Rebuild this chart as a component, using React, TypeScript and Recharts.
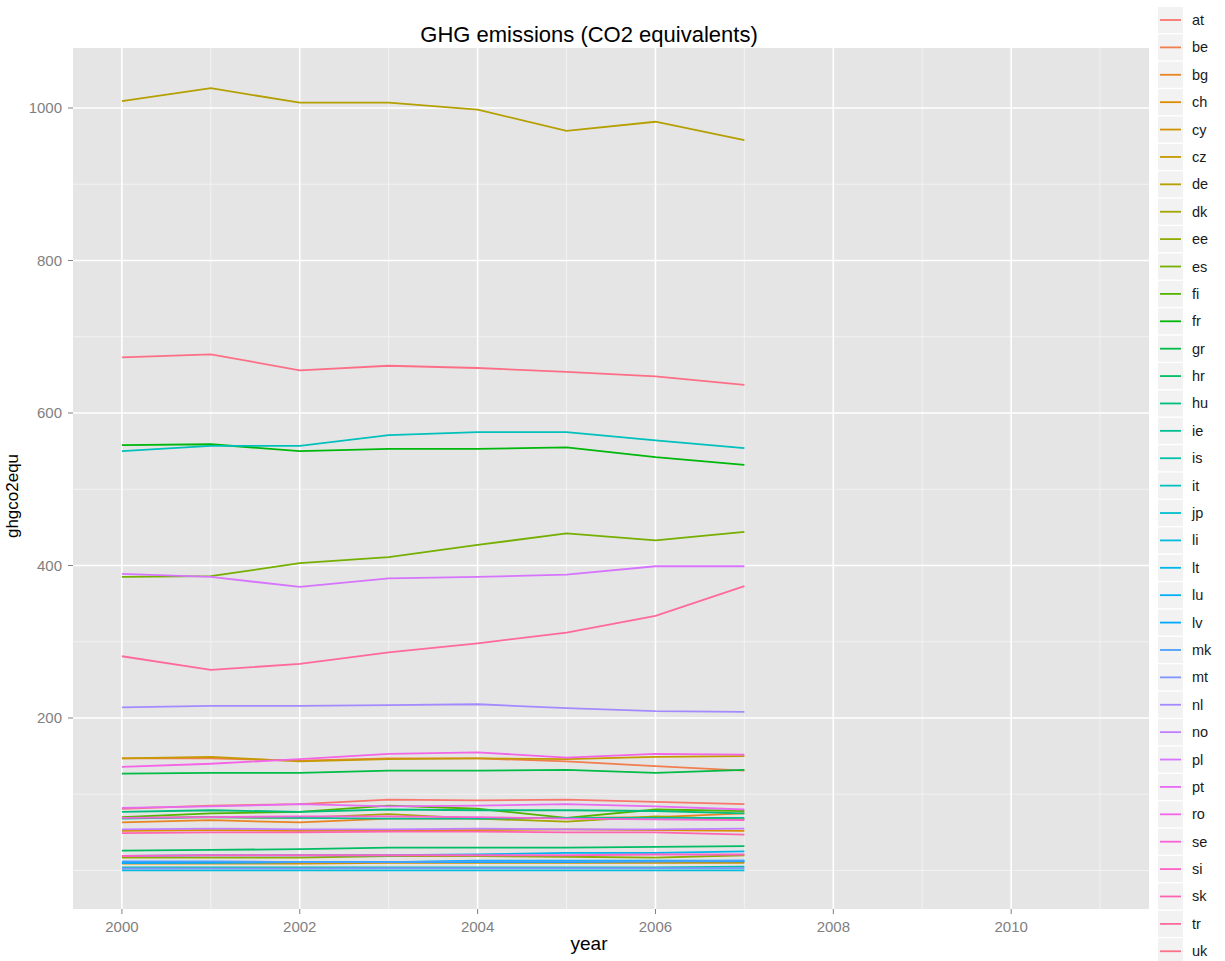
import React from "react";
import {
  CartesianGrid,
  Legend,
  Line,
  LineChart,
  XAxis,
  YAxis,
} from "recharts";

const FONT = '"Liberation Sans", Arial, sans-serif';

const years = [2000, 2001, 2002, 2003, 2004, 2005, 2006, 2007];

const countries = [
  "at", "be", "bg", "ch", "cy", "cz", "de", "dk", "ee", "es", "fi", "fr",
  "gr", "hr", "hu", "ie", "is", "it", "jp", "li", "lt", "lu", "lv", "mk",
  "mt", "nl", "no", "pl", "pt", "ro", "se", "si", "sk", "tr", "uk",
];

// ghg emissions per country, Mt CO2 equivalents, 2000-2007
const ghgAT = [81, 85, 87, 93, 92, 93, 90, 87];
const ghgBE = [147, 147, 144, 147, 147, 143, 137, 131];
const ghgBG = [63, 66, 63, 68, 68, 69, 70, 75];
const ghgCH = [52, 53, 52, 53, 53, 54, 53, 52];
const ghgCY = [9, 9, 9, 10, 10, 10, 10, 10];
const ghgCZ = [147, 149, 143, 146, 147, 146, 149, 150];
const ghgDE = [1009, 1026, 1007, 1007, 998, 970, 982, 958];
const ghgDK = [69, 70, 69, 74, 68, 64, 71, 67];
const ghgEE = [17, 17, 17, 19, 19, 18, 17, 20];
const ghgES = [385, 386, 403, 411, 427, 442, 433, 444];
const ghgFI = [70, 75, 77, 85, 81, 69, 80, 78];
const ghgFR = [558, 559, 550, 553, 553, 555, 542, 532];
const ghgGR = [127, 128, 128, 131, 131, 132, 128, 132];
const ghgHR = [26, 27, 28, 30, 30, 30, 31, 32];
const ghgHU = [77, 79, 77, 80, 79, 79, 78, 75];
const ghgIE = [68, 70, 69, 68, 68, 69, 69, 69];
const ghgIS = [4, 4, 4, 4, 4, 4, 4, 5];
const ghgIT = [550, 557, 557, 571, 575, 575, 564, 554];
const ghgJP = [null, null, null, null, null, null, null, null];
const ghgLI = [0.26, 0.26, 0.26, 0.27, 0.27, 0.27, 0.23, 0.23];
const ghgLT = [19, 20, 20, 20, 21, 23, 23, 25];
const ghgLU = [10, 10, 11, 11, 13, 13, 13, 13];
const ghgLV = [10, 11, 11, 11, 11, 11, 12, 12];
const ghgMK = [12, 12, 11, 11, 12, 12, 12, 13];
const ghgMT = [2.6, 2.8, 2.8, 3.0, 3.0, 3.0, 3.0, 3.0];
const ghgNL = [214, 216, 216, 217, 218, 213, 209, 208];
const ghgNO = [54, 55, 54, 54, 55, 54, 54, 55];
const ghgPL = [389, 385, 372, 383, 385, 388, 399, 399];
const ghgPT = [82, 84, 87, 84, 85, 87, 84, 80];
const ghgRO = [136, 140, 146, 153, 155, 148, 153, 152];
const ghgSE = [69, 70, 71, 71, 70, 68, 67, 66];
const ghgSI = [19, 20, 20, 20, 20, 20, 21, 21];
const ghgSK = [49, 50, 50, 51, 51, 50, 50, 47];
const ghgTR = [281, 263, 271, 286, 298, 312, 334, 373];
const ghgUK = [673, 677, 656, 662, 659, 654, 648, 637];

const seriesValues = [
  ghgAT, ghgBE, ghgBG, ghgCH, ghgCY, ghgCZ, ghgDE, ghgDK, ghgEE, ghgES,
  ghgFI, ghgFR, ghgGR, ghgHR, ghgHU, ghgIE, ghgIS, ghgIT, ghgJP, ghgLI,
  ghgLT, ghgLU, ghgLV, ghgMK, ghgMT, ghgNL, ghgNO, ghgPL, ghgPT, ghgRO,
  ghgSE, ghgSI, ghgSK, ghgTR, ghgUK,
];

const xMajor = [2000, 2002, 2004, 2006, 2008, 2010];
const xMinor = [2001, 2003, 2005, 2007, 2009, 2011];
const yMajor = [200, 400, 600, 800, 1000];
const yMinor = [0, 100, 300, 500, 700, 900];

const rows = years.map((year, i) => {
  const row: Record<string, number | null> = { year };
  countries.forEach((c, k) => {
    row[c] = seriesValues[k][i];
  });
  return row;
});

// ggplot-style hue palette: hcl(h, c = 100, l = 65)
function hcl(h: number, c: number, l: number) {
  const hr = (h * Math.PI) / 180;
  const U = c * Math.cos(hr);
  const V = c * Math.sin(hr);
  const Xn = 95.047, Yn = 100, Zn = 108.883;
  const Y = Yn * (l > 8 ? Math.pow((l + 16) / 116, 3) : l / 903.3);
  const t = Xn + 15 * Yn + 3 * Zn;
  const u = U / (13 * l) + (4 * Xn) / t;
  const v = V / (13 * l) + (9 * Yn) / t;
  const X = (9 * Y * u) / (4 * v);
  const Z = -X / 3 - 5 * Y + (3 * Y) / v;
  const x = X / 100, y = Y / 100, z = Z / 100;
  const lin = [
    3.240479 * x - 1.53715 * y - 0.498535 * z,
    -0.969256 * x + 1.875992 * y + 0.041556 * z,
    0.055648 * x - 0.204043 * y + 1.057311 * z,
  ];
  const hex = lin
    .map((ch) => {
      const g = ch <= 0.0031308 ? 12.92 * ch : 1.055 * Math.pow(ch, 1 / 2.4) - 0.055;
      const n = Math.round(Math.min(1, Math.max(0, g)) * 255);
      return n.toString(16).padStart(2, "0");
    })
    .join("");
  return "#" + hex;
}

const palette = countries.map((_, k) => hcl(15 + (k * 360) / countries.length, 100, 65));

const KEY_STEP = 27.39;

function KeyLegend({ payload }: { payload?: any[] }) {
  const items = payload ?? [];
  return (
    <svg width={67} height={954} style={{ display: "block" }}>
      {items.map((p, i) => {
        const y0 = i * KEY_STEP;
        return (
          <g key={p.value}>
            <rect x={0} y={y0} width={25} height={26} fill="#F2F2F2" />
            <line x1={2} x2={23} y1={y0 + 13} y2={y0 + 13} stroke={p.color} strokeWidth={1.8} />
            <text
              x={34}
              y={y0 + 18}
              fontFamily={FONT}
              fontSize={14.5}
              fill="#1A1A1A"
            >
              {p.value}
            </text>
          </g>
        );
      })}
    </svg>
  );
}

export default function App() {
  return (
    <div style={{ position: "absolute", left: 0, top: 0, width: 1225, height: 961, background: "#fff" }}>
      <LineChart
        width={1225}
        height={961}
        data={rows}
        margin={{ top: 48, right: 76, bottom: 12, left: 13 }}
      >
        <CartesianGrid
          fill="#E5E5E5"
          stroke="#F2F2F2"
          strokeWidth={1}
          horizontalValues={yMinor}
          verticalValues={xMinor}
        />
        <CartesianGrid
          stroke="#FFFFFF"
          strokeWidth={1.6}
          horizontalValues={yMajor}
          verticalValues={xMajor}
        />
        <XAxis
          dataKey="year"
          type="number"
          domain={[1999.45, 2011.55]}
          allowDataOverflow
          ticks={xMajor}
          interval={0}
          axisLine={false}
          tickLine={{ stroke: "#7F7F7F" }}
          tickSize={5}
          tickMargin={7}
          height={40}
          tick={{ fill: "#7F7F7F", fontSize: 15, fontFamily: FONT }}
        />
        <YAxis
          type="number"
          domain={[-50.5, 1078.7]}
          allowDataOverflow
          ticks={yMajor}
          interval={0}
          axisLine={false}
          tickLine={{ stroke: "#7F7F7F" }}
          tickSize={5}
          tickMargin={6}
          width={60}
          tick={{ fill: "#7F7F7F", fontSize: 15, fontFamily: FONT }}
        />
        <Legend
          layout="vertical"
          align="center"
          verticalAlign="middle"
          wrapperStyle={{ left: 1158, top: 7, width: 67, height: 954 }}
          content={(props: any) => <KeyLegend payload={props.payload} />}
        />
        {countries.map((c, k) => (
          <Line
            key={c}
            dataKey={c}
            name={c}
            stroke={palette[k]}
            strokeWidth={1.8}
            dot={false}
            activeDot={false}
            isAnimationActive={false}
          />
        ))}
      </LineChart>
      <div
        style={{
          position: "absolute", left: 389, width: 400, top: 22, textAlign: "center",
          fontFamily: FONT, fontSize: 22, lineHeight: "26px", color: "#000",
        }}
      >
        GHG emissions (CO2 equivalents)
      </div>
      <div
        style={{
          position: "absolute", left: 489, width: 200, top: 933, textAlign: "center",
          fontFamily: FONT, fontSize: 19, lineHeight: "22px", color: "#000",
        }}
      >
        year
      </div>
      <div
        style={{
          position: "absolute", left: 13 - 60, top: 496 - 11, width: 120, textAlign: "center",
          fontFamily: FONT, fontSize: 17, lineHeight: "22px", color: "#000",
          transform: "rotate(-90deg)",
        }}
      >
        ghgco2equ
      </div>
    </div>
  );
}
